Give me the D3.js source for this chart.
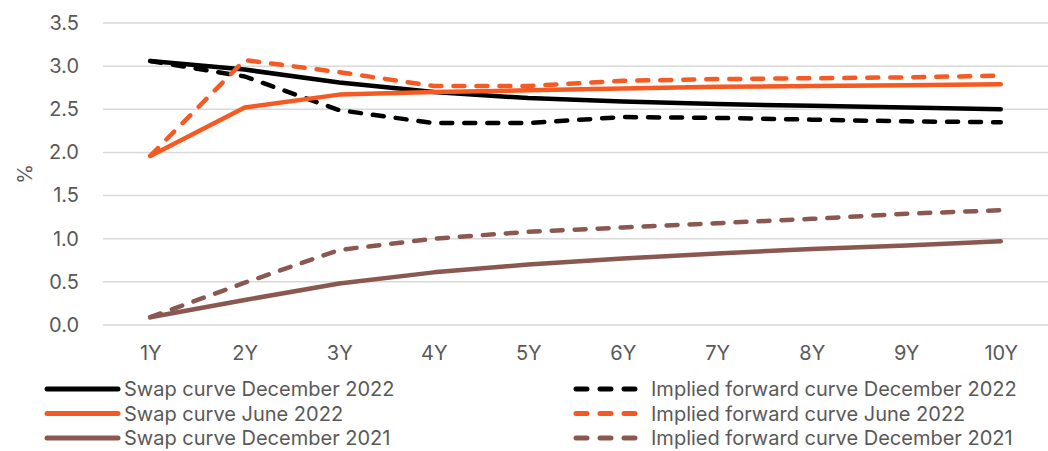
<!DOCTYPE html>
<html>
<head>
<meta charset="utf-8">
<script src="https://cdn.jsdelivr.net/npm/d3@7"></script>
<style>
  html, body { margin: 0; padding: 0; background: #fff; }
  svg { display: block; font-family: Inter, "Liberation Sans", Arial, sans-serif; }
</style>
</head>
<body>
<svg id="chart" width="1048" height="451"></svg>
<script>
// Tenors along the x axis
const tenors = ["1Y", "2Y", "3Y", "4Y", "5Y", "6Y", "7Y", "8Y", "9Y", "10Y"];

// Swap rates and implied forward rates (%)
const swapDec2022    = [3.06, 2.96, 2.81, 2.70, 2.63, 2.59, 2.56, 2.54, 2.52, 2.50];
const forwardDec2022 = [3.06, 2.88, 2.49, 2.34, 2.34, 2.41, 2.40, 2.38, 2.36, 2.35];
const swapJun2022    = [1.96, 2.52, 2.67, 2.70, 2.72, 2.74, 2.76, 2.77, 2.78, 2.79];
const forwardJun2022 = [1.96, 3.07, 2.93, 2.77, 2.77, 2.83, 2.85, 2.86, 2.87, 2.89];
const swapDec2021    = [0.09, 0.29, 0.48, 0.61, 0.70, 0.77, 0.83, 0.88, 0.92, 0.97];
const forwardDec2021 = [0.09, 0.49, 0.87, 1.00, 1.08, 1.13, 1.18, 1.23, 1.29, 1.33];

const yTicks = [0, 0.5, 1.0, 1.5, 2.0, 2.5, 3.0, 3.5];

const seriesNames = [
  "Swap curve December 2022", "Implied forward curve December 2022",
  "Swap curve June 2022", "Implied forward curve June 2022",
  "Swap curve December 2021", "Implied forward curve December 2021"
];

const BLACK = "#000000", ORANGE = "#F55A23", BROWN = "#8A5850";

const series = [
  { name: seriesNames[0], values: swapDec2022,    color: BLACK,  dashed: false },
  { name: seriesNames[1], values: forwardDec2022, color: BLACK,  dashed: true },
  { name: seriesNames[2], values: swapJun2022,    color: ORANGE, dashed: false },
  { name: seriesNames[3], values: forwardJun2022, color: ORANGE, dashed: true },
  { name: seriesNames[4], values: swapDec2021,    color: BROWN,  dashed: false },
  { name: seriesNames[5], values: forwardDec2021, color: BROWN,  dashed: true }
];

const svg = d3.select("#chart");
const plot = { left: 103, right: 1048, top: 23, bottom: 325 };

const x = d3.scalePoint().domain(tenors).range([plot.left, plot.right]).padding(0.5);
const y = d3.scaleLinear().domain([0, 3.5]).range([plot.bottom, plot.top]);

const textColor = "#595959";
const fontSize = 20;

// Horizontal gridlines
svg.append("g")
  .selectAll("line")
  .data(yTicks)
  .join("line")
  .attr("x1", plot.left).attr("x2", plot.right)
  .attr("y1", d => y(d)).attr("y2", d => y(d))
  .attr("stroke", "#d9d9d9").attr("stroke-width", 1.5);

// Y axis labels
const yAxis = svg.append("g")
  .attr("transform", `translate(${plot.left - 24},0)`)
  .call(d3.axisLeft(y).tickValues(yTicks).tickFormat(d3.format(".1f")).tickSize(0).tickPadding(0));
yAxis.select(".domain").remove();
yAxis.selectAll("text")
  .attr("fill", textColor).attr("font-size", fontSize).attr("font-family", "Inter, sans-serif");

// X axis labels
const xAxis = svg.append("g")
  .attr("transform", `translate(0,${plot.bottom + 21})`)
  .call(d3.axisBottom(x).tickSize(0).tickPadding(0));
xAxis.select(".domain").remove();
xAxis.selectAll("text")
  .attr("fill", textColor).attr("font-size", fontSize).attr("font-family", "Inter, sans-serif");

// Y axis title
svg.append("text")
  .attr("transform", `translate(32,${(plot.top + plot.bottom) / 2}) rotate(-90)`)
  .attr("text-anchor", "middle")
  .attr("fill", textColor).attr("font-size", fontSize)
  .text("%");

// Curves
const line = d3.line()
  .x((d, i) => x(tenors[i]))
  .y(d => y(d));

svg.append("g")
  .selectAll("path")
  .data(series)
  .join("path")
  .attr("d", d => line(d.values))
  .attr("fill", "none")
  .attr("stroke", d => d.color)
  .attr("stroke-width", 4.5)
  .attr("stroke-linecap", "round")
  .attr("stroke-linejoin", "round")
  .attr("stroke-dasharray", d => d.dashed ? "11,12" : null);

// Legend: two columns, three rows
const legendRows = [389, 413.5, 438];
const legend = svg.append("g");
series.forEach((s, i) => {
  const col = i % 2, row = Math.floor(i / 2);
  const ly = legendRows[row];
  const g = legend.append("g");
  if (col === 0) {
    g.append("line")
      .attr("x1", 47).attr("x2", 118).attr("y1", ly).attr("y2", ly)
      .attr("stroke", s.color).attr("stroke-width", 5).attr("stroke-linecap", "round");
    g.append("text")
      .attr("x", 124).attr("y", ly).attr("dy", "0.35em")
      .attr("fill", textColor).attr("font-size", fontSize)
      .text(s.name);
  } else {
    g.append("line")
      .attr("x1", 576).attr("x2", 636).attr("y1", ly).attr("y2", ly)
      .attr("stroke", s.color).attr("stroke-width", 5).attr("stroke-linecap", "round")
      .attr("stroke-dasharray", "11,13");
    g.append("text")
      .attr("x", 651).attr("y", ly).attr("dy", "0.35em")
      .attr("fill", textColor).attr("font-size", fontSize)
      .text(s.name);
  }
});
</script>
</body>
</html>
